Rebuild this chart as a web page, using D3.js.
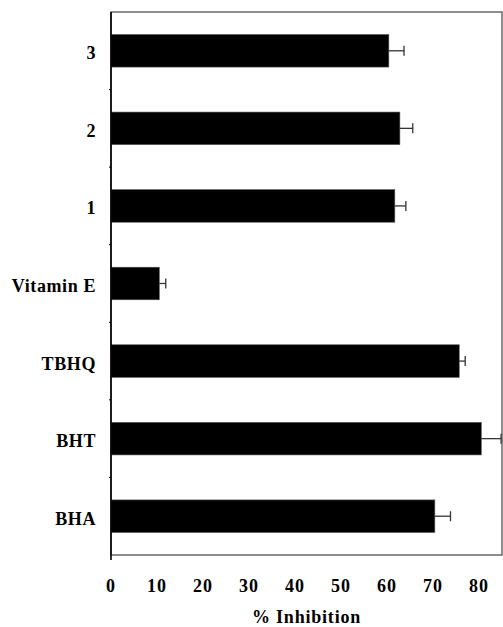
<!DOCTYPE html>
<html>
<head>
<meta charset="utf-8">
<script src="https://cdn.jsdelivr.net/npm/d3@7"></script>
<style>
  html, body { margin: 0; padding: 0; background: #fff; }
  svg { display: block; }
  text { font-family: "Liberation Serif", "Times New Roman", serif; font-weight: bold; fill: #000; }
</style>
</head>
<body>
<svg id="chart" width="503" height="627"></svg>
<script>
// Antioxidant activity (% inhibition), top to bottom
const compounds = ["3", "2", "1", "Vitamin E", "TBHQ", "BHT", "BHA"];
const inhibition = [60.4, 62.8, 61.7, 10.5, 75.7, 80.5, 70.4];
const errors = [3.3, 2.8, 2.4, 1.4, 1.3, 4.3, 3.4];
const xTicks = [0, 10, 20, 30, 40, 50, 60, 70, 80];
const xTitle = "% Inhibition";

const svg = d3.select("#chart");
const plotL = 111, plotR = 502, plotT = 12, plotB = 555;

const x = d3.scaleLinear().domain([0, 85]).range([plotL, plotR]);
const y = d3.scaleBand().domain(compounds).range([plotT, plotB]).paddingInner(0.58).paddingOuter(0.29);

// plot frame
svg.append("rect")
  .attr("x", plotL).attr("y", plotT)
  .attr("width", plotR - plotL).attr("height", plotB - plotT)
  .attr("fill", "none").attr("stroke", "#444").attr("stroke-width", 1.2);

// bars
svg.append("g").selectAll("rect")
  .data(compounds)
  .join("rect")
  .attr("x", x(0))
  .attr("y", d => y(d))
  .attr("width", (d, i) => x(inhibition[i]) - x(0))
  .attr("height", y.bandwidth())
  .attr("fill", "#000")
  .attr("stroke", "#555")
  .attr("stroke-width", 0.6);

// error bars (positive side only)
const eb = svg.append("g").attr("stroke", "#333").attr("stroke-width", 1.3);
compounds.forEach((c, i) => {
  const cy = y(c) + y.bandwidth() / 2;
  const x0 = x(inhibition[i]), x1 = x(inhibition[i] + errors[i]);
  eb.append("line").attr("x1", x0).attr("x2", x1).attr("y1", cy).attr("y2", cy);
  eb.append("line").attr("x1", x1).attr("x2", x1).attr("y1", cy - 5).attr("y2", cy + 5);
});

// category separators on the left axis
const sep = svg.append("g").attr("stroke", "#000").attr("stroke-width", 1);
compounds.slice(1).forEach(c => {
  const yy = y(c) - y.step() * y.paddingInner() / 2;
  sep.append("line").attr("x1", plotL - 2).attr("x2", plotL).attr("y1", yy).attr("y2", yy);
});

// left axis line
svg.append("line")
  .attr("x1", plotL).attr("x2", plotL).attr("y1", plotT).attr("y2", plotB + 5)
  .attr("stroke", "#000").attr("stroke-width", 1.6);

// category labels
svg.append("g").selectAll("text")
  .data(compounds)
  .join("text")
  .attr("x", 96)
  .attr("y", d => y(d) + y.bandwidth() / 2)
  .attr("dy", "0.47em")
  .attr("text-anchor", "end")
  .attr("font-size", 18)
  .attr("letter-spacing", 0.6)
  .text(d => d);

// x tick labels
svg.append("g").selectAll("text")
  .data(xTicks)
  .join("text")
  .attr("x", d => x(d))
  .attr("y", 592)
  .attr("text-anchor", "middle")
  .attr("font-size", 18)
  .attr("letter-spacing", 1)
  .text(d => d);

// x axis title
svg.append("text")
  .attr("x", (plotL + plotR) / 2)
  .attr("y", 623)
  .attr("text-anchor", "middle")
  .attr("font-size", 18)
  .attr("letter-spacing", 0.8)
  .text(xTitle);
</script>
</body>
</html>
